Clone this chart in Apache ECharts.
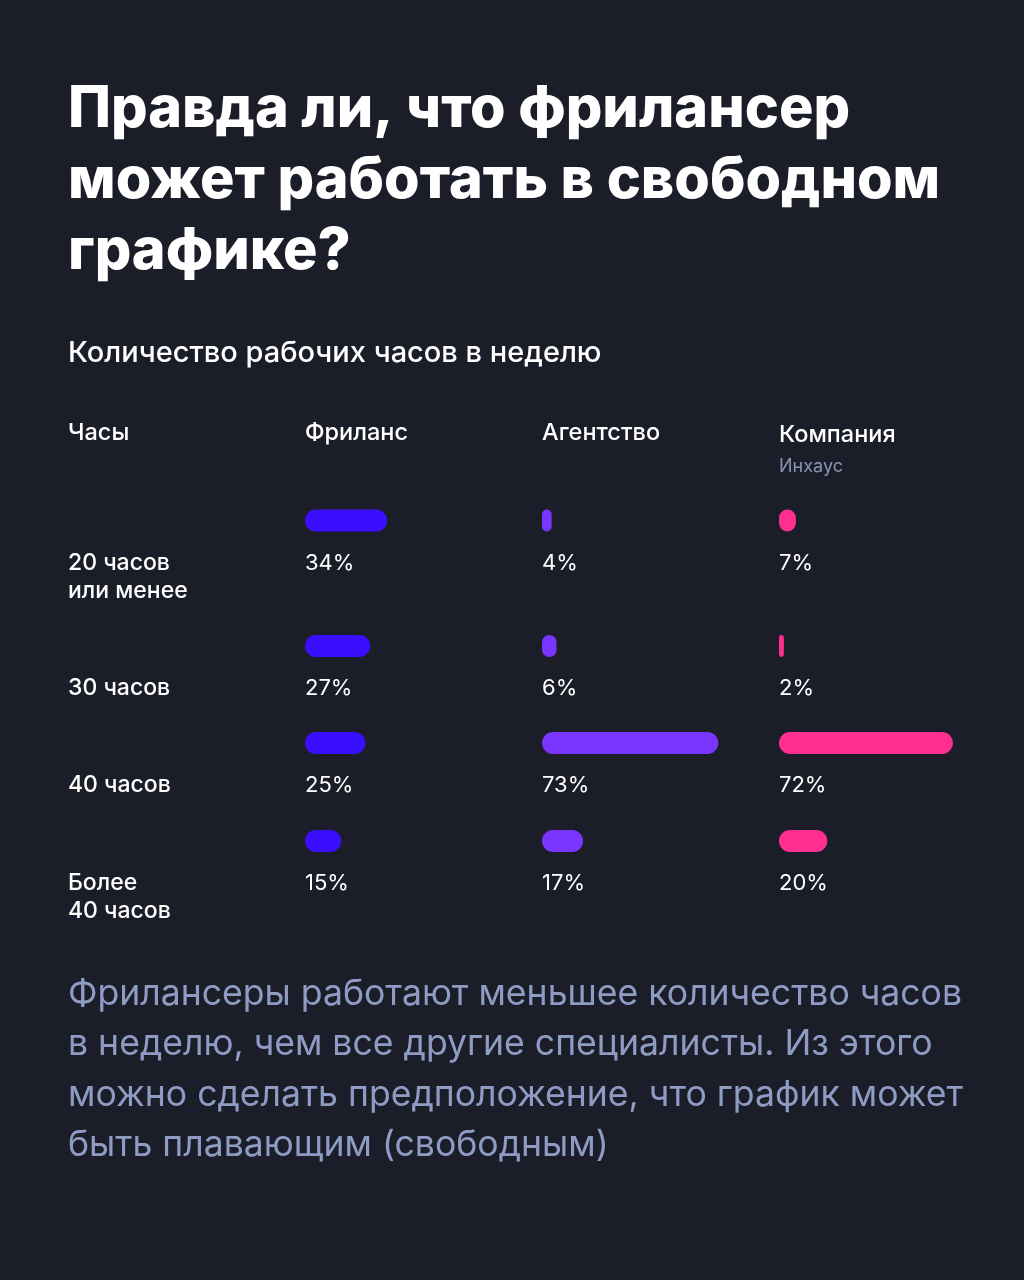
<!DOCTYPE html>
<html>
<head>
<meta charset="utf-8">
<script src="https://cdn.jsdelivr.net/npm/echarts@6/dist/echarts.min.js"></script>
<style>
html,body{margin:0;padding:0;background:#1b1e28;}
#c{width:1024px;height:1280px;}
</style>
</head>
<body>
<div id="c"></div>
<script>
// ---- data ----
const rowLabels = ['20 часов\nили менее', '30 часов', '40 часов', 'Более\n40 часов'];
const columnNames = ['Фриланс', 'Агентство', 'Компания'];
const columnSubNames = ['', '', 'Инхаус'];
const freelanceValues = [34, 27, 25, 15];
const agencyValues = [4, 6, 73, 17];
const companyValues = [7, 2, 72, 20];
const titleText = 'Правда ли, что фрилансер\nможет работать в свободном\nграфике?';
const subtitleText = 'Количество рабочих часов в неделю';
const headerLabel = 'Часы';
const footerText = 'Фрилансеры работают меньшее количество часов\nв неделю, чем все другие специалисты. Из этого\nможно сделать предположение, что график может\nбыть плавающим (свободным)';

// ---- layout / style ----
const FONT = 'Inter, "Noto Sans", sans-serif';
const seriesValues = [freelanceValues, agencyValues, companyValues];
const colors = ['#3a0eff', '#7a35ff', '#ff2f92'];
const colX = [305, 542, 779];
const colW = 241.5;
const rowCenter = [520.5, 646, 743, 841];
const barH = 22;

const grids = [], xAxes = [], yAxes = [], series = [];
let idx = 0;
for (let r = 0; r < rowLabels.length; r++) {
  for (let c = 0; c < 3; c++) {
    grids.push({left: colX[c], width: colW, top: rowCenter[r] - barH / 2, height: barH, containLabel: false});
    xAxes.push({gridIndex: idx, type: 'value', min: 0, max: 100, show: false});
    yAxes.push({
      gridIndex: idx, type: 'category', data: [rowLabels[r]],
      axisLine: {show: false}, axisTick: {show: false}, splitLine: {show: false},
      axisLabel: c === 0 ? {
        show: true, align: 'left', margin: colX[0] - 68, verticalAlign: 'top',
        padding: [28.5, 0, 0, 0], lineHeight: 28, fontSize: 23, fontWeight: 500,
        color: '#ffffff', fontFamily: FONT
      } : {show: false}
    });
    series.push({
      type: 'bar', xAxisIndex: idx, yAxisIndex: idx,
      data: [seriesValues[c][r]], barWidth: barH,
      itemStyle: {color: colors[c], borderRadius: barH / 2},
      label: {
        show: true, position: [0, 42.5], align: 'left', verticalAlign: 'top',
        formatter: '{c}%', fontSize: 22, lineHeight: 22, color: '#ffffff',
        fontFamily: FONT, fontWeight: 400
      },
      silent: true, animation: false
    });
    idx++;
  }
}

const graphic = [
  {type: 'text', left: 68, top: 74, style: {text: titleText, fill: '#ffffff', font: '800 57.5px ' + FONT, lineHeight: 71}},
  {type: 'text', left: 68, top: 337, style: {text: subtitleText, fill: '#ffffff', font: '500 29px ' + FONT, lineHeight: 32}},
  {type: 'text', left: 68, top: 419, style: {text: headerLabel, fill: '#ffffff', font: '500 23.5px ' + FONT, lineHeight: 28}},
  {type: 'text', left: 68, top: 969, style: {text: footerText, fill: '#8e9cc4', font: '400 35.6px ' + FONT, lineHeight: 50.5}}
];
for (let c = 0; c < 3; c++) {
  graphic.push({type: 'text', left: colX[c], top: c === 2 ? 421 : 419, style: {text: columnNames[c], fill: '#ffffff', font: '500 23.5px ' + FONT, lineHeight: 28}});
  if (columnSubNames[c]) {
    graphic.push({type: 'text', left: colX[c], top: 456, style: {text: columnSubNames[c], fill: '#8a94b3', font: '400 18px ' + FONT, lineHeight: 22}});
  }
}

const chart = echarts.init(document.getElementById('c'), null, {renderer: 'canvas'});
chart.setOption({
  backgroundColor: '#1b1e28',
  animation: false,
  grid: grids, xAxis: xAxes, yAxis: yAxes, series: series,
  graphic: graphic
});
</script>
</body>
</html>
